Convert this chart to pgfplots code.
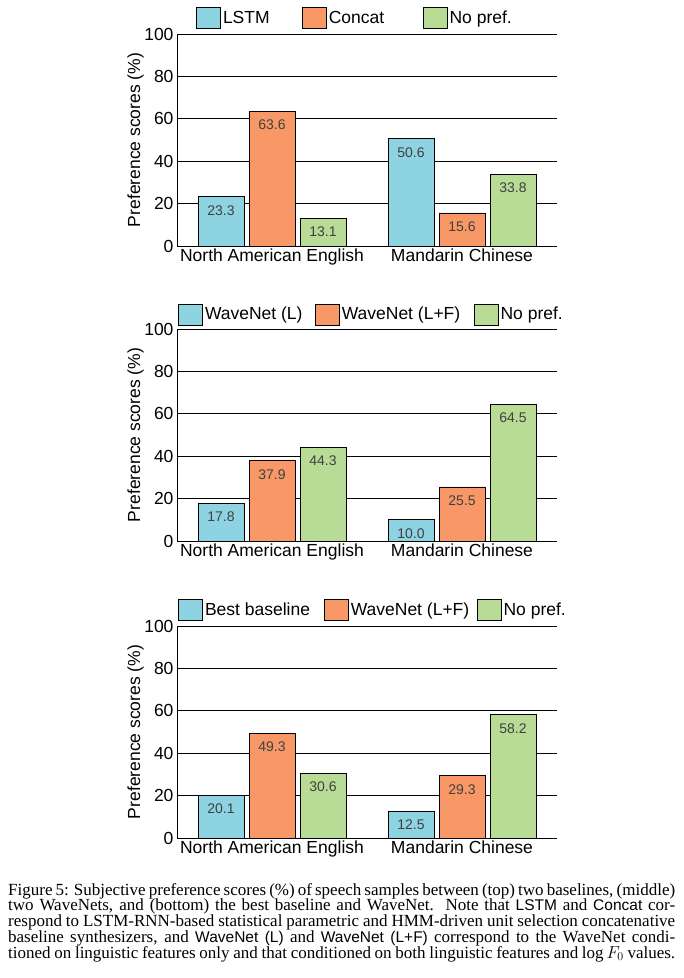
\documentclass[border=0pt]{standalone}
\usepackage{fontspec}
\setmainfont{Liberation Serif}
\newfontfamily\chartfont{Liberation Sans}
\usepackage{pgfplots}
\pgfplotsset{compat=1.18}
\definecolor{cblue}{HTML}{8DD3E1}
\definecolor{corange}{HTML}{F89866}
\definecolor{cgreen}{HTML}{B8DC96}
\definecolor{lblgray}{HTML}{404040}
\newcommand{\cf}{\chartfont\fontsize{17.5}{20}\selectfont}
\newcommand{\csf}[1]{{\chartfont\fontsize{15.5}{15.8}\selectfont #1}}
\pgfplotsset{
  prefchart/.style={
    width=380pt, height=212pt, scale only axis,
    xmin=-0.5, xmax=1.5, ymin=0, ymax=100,
    ybar=5pt, bar width=46pt,
    axis lines*=left,
    axis line style={line width=0.8pt},
    ymajorgrids, grid style={black, line width=0.8pt},
    ytick={0,20,...,100},
    xtick={0,1}, xticklabels={North American English, Mandarin Chinese},
    major tick length=0pt,
    tick label style={font=\cf},
    /pgf/number format/assume math mode=true,
    xticklabel style={inner ysep=2.5pt},
    ylabel={Preference scores (\%)},
    ylabel style={font=\cf, at={(axis description cs:-0.109,0.5)}, anchor=center},
    nodes near coords={\pgfmathprintnumber[fixed,fixed zerofill,precision=1,assume math mode=true]{\pgfplotspointmeta}},
    every node near coord/.append style={font=\chartfont\fontsize{14}{16}\selectfont, text=lblgray, inner sep=0pt, yshift=-19pt},
    legend image code/.code={\draw[#1, line width=0.8pt] (0pt,-10.5pt) rectangle (24pt,10.5pt);},
    legend style={draw=none, fill=none, legend columns=-1, at={(axis description cs:0,1)}, anchor=south west,
      nodes={inner sep=0pt}, font=\cf, /tikz/every even column/.append style={column sep=0pt}},
  },
  b1/.style={fill=cblue, draw=black, line width=0.8pt},
  b2/.style={fill=corange, draw=black, line width=0.8pt},
  b3/.style={fill=cgreen, draw=black, line width=0.8pt},
}
\newcommand{\legent}[2]{\hspace{2pt}\makebox[#1][l]{#2}}
\begin{document}
\begin{tikzpicture}
\useasboundingbox (0,0) rectangle (684pt,-978pt);
% ---------- top ----------
\begin{axis}[prefchart, at={(177pt,-246pt)}, anchor=south west,
  legend style={xshift=16pt, yshift=3pt}]
\addplot[b1] coordinates {(0,23.3) (1,50.6)};
\addplot[b2] coordinates {(0,63.6) (1,15.6)};
\addplot[b3] coordinates {(0,13.1) (1,33.8)};
\addlegendentry{\legent{79pt}{LSTM}}
\addlegendentry{\legent{94pt}{Concat}}
\addlegendentry{\hspace{2pt}No pref.}
\end{axis}
% ---------- middle ----------
\begin{axis}[prefchart, at={(177pt,-541pt)}, anchor=south west,
  legend style={xshift=-2pt, yshift=1.5pt}]
\addplot[b1] coordinates {(0,17.8) (1,10.0)};
\addplot[b2] coordinates {(0,37.9) (1,25.5)};
\addplot[b3] coordinates {(0,44.3) (1,64.5)};
\addlegendentry{\legent{110pt}{WaveNet (L)}}
\addlegendentry{\legent{132pt}{WaveNet (L+F)}}
\addlegendentry{\hspace{2pt}No pref.}
\end{axis}
% ---------- bottom ----------
\begin{axis}[prefchart, at={(177pt,-838pt)}, anchor=south west,
  legend style={xshift=-2pt, yshift=3pt}]
\addplot[b1] coordinates {(0,20.1) (1,12.5)};
\addplot[b2] coordinates {(0,49.3) (1,29.3)};
\addplot[b3] coordinates {(0,30.6) (1,58.2)};
\addlegendentry{\legent{119pt}{Best baseline}}
\addlegendentry{\legent{126pt}{WaveNet (L+F)}}
\addlegendentry{\hspace{2pt}No pref.}
\end{axis}
% ---------- caption ----------
\node[anchor=north west, inner sep=0pt, align=left, font=\fontsize{17}{15.8}\selectfont] at (8pt,-883pt) {%
\makebox[667pt][s]{Figure 5: Subjective preference scores (\%) of speech samples between (top) two baselines, (middle)}\\
\makebox[667pt][s]{two WaveNets, and (bottom) the best baseline and WaveNet.\ \ Note that \csf{LSTM} and \csf{Concat} cor-}\\
\makebox[667pt][s]{respond to LSTM-RNN-based statistical parametric and HMM-driven unit selection concatenative}\\
\makebox[667pt][s]{baseline synthesizers, and \csf{WaveNet (L)} and \csf{WaveNet (L+F)} correspond to the WaveNet condi-}\\
\makebox[667pt][s]{tioned on linguistic features only and that conditioned on both linguistic features and $\log F_0$ values.}};
\end{tikzpicture}
\end{document}
